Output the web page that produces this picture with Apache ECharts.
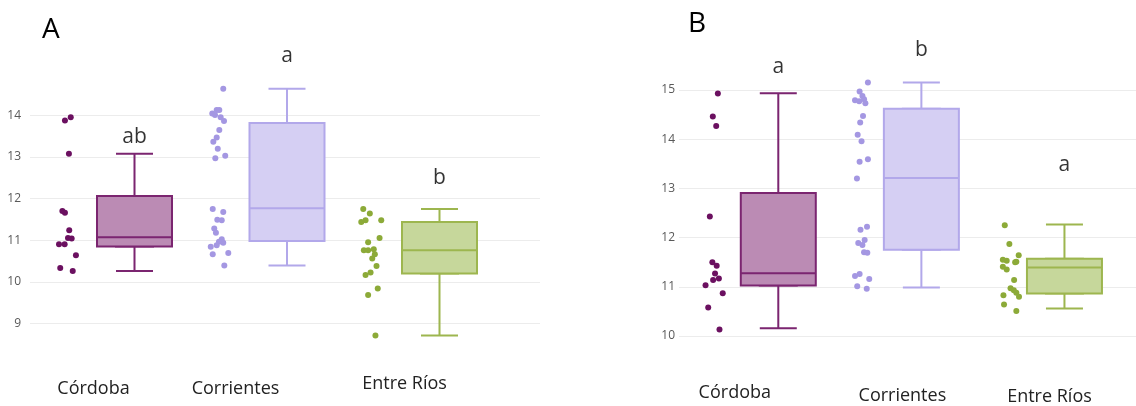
<!DOCTYPE html>
<html>
<head>
<meta charset="utf-8">
<script src="https://cdn.jsdelivr.net/npm/echarts/dist/echarts.min.js"></script>
<style>
html,body{margin:0;padding:0;background:#fff;}
#chart{width:1136px;height:406px;}
</style>
</head>
<body>
<div id="chart"></div>
<script>
// ---------- DATA ----------
const categories = ['Córdoba', 'Corrientes', 'Entre Ríos'];
const yTicksA = [9, 10, 11, 12, 13, 14];
const yTicksB = [10, 11, 12, 13, 14, 15];

// Panel A: jittered points (x in category units, y values)
const cordobaA_x = [-0.456,-0.418,-0.430,-0.473,-0.456,-0.428,-0.436,-0.412,-0.495,-0.458,-0.384,-0.487,-0.405];
const cordobaA_y = [13.88,13.96,13.08,11.70,11.66,11.24,11.05,11.04,10.90,10.90,10.64,10.33,10.26];
const corrientesA_x = [0.582,0.510,0.539,0.556,0.528,0.565,0.587,0.556,0.539,0.517,0.546,0.530,0.595,0.513,0.582,0.543,0.572,0.523,0.534,0.572,0.554,0.582,0.500,0.539,0.513,0.615,0.589];
const corrientesA_y = [14.64,14.05,14.13,14.13,14.01,13.96,13.87,13.65,13.47,13.37,13.20,12.97,13.03,11.75,11.68,11.49,11.48,11.28,11.18,11.02,10.96,10.94,10.84,10.88,10.66,10.69,10.39];
const entreRiosA_x = [1.500,1.543,1.487,1.515,1.618,1.607,1.532,1.504,1.532,1.569,1.576,1.559,1.587,1.548,1.515,1.595,1.532,1.580];
const entreRiosA_y = [11.75,11.64,11.44,11.48,11.48,11.05,10.95,10.76,10.76,10.78,10.66,10.56,10.38,10.22,10.16,9.84,9.68,8.71];
// Panel A boxes: [min, Q1, median, Q3, max]
const boxCordobaA = [10.26, 10.85, 11.07, 12.06, 13.08];
const boxCorrientesA = [10.39, 10.98, 11.77, 13.82, 14.64];
const boxEntreRiosA = [8.71, 10.20, 10.76, 11.44, 11.75];
const lettersA = ['ab', 'a', 'b'];
const lettersA_y = [13.47, 15.42, 12.49];

// Panel B
const cordobaB_x = [-0.420,-0.454,-0.431,-0.474,-0.457,-0.428,-0.439,-0.452,-0.413,-0.503,-0.387,-0.485,-0.409];
const cordobaB_y = [14.93,14.46,14.27,12.43,11.50,11.43,11.27,11.14,11.17,11.03,10.87,10.58,10.13];
const corrientesB_x = [0.592,0.536,0.555,0.566,0.505,0.533,0.575,0.559,0.540,0.523,0.549,0.536,0.592,0.518,0.586,0.542,0.527,0.570,0.555,0.566,0.588,0.536,0.505,0.601,0.520,0.584];
const corrientesB_y = [15.15,14.97,14.88,14.81,14.79,14.77,14.73,14.47,14.34,14.09,13.96,13.54,13.59,13.20,12.22,12.16,11.89,11.95,11.85,11.70,11.69,11.26,11.22,11.16,11.01,10.96];
const entreRiosB_x = [1.515,1.546,1.609,1.502,1.528,1.585,1.593,1.502,1.528,1.578,1.554,1.576,1.593,1.506,1.611,1.510,1.593];
const entreRiosB_y = [12.25,11.87,11.64,11.55,11.53,11.50,11.51,11.41,11.35,11.14,10.97,10.93,10.88,10.83,10.80,10.64,10.51];
const boxCordobaB = [10.13, 11.00, 11.25, 12.89, 14.93];
const boxCorrientesB = [10.96, 11.73, 13.20, 14.61, 15.15];
const boxEntreRiosB = [10.53, 10.84, 11.37, 11.55, 12.25];
const lettersB = ['a', 'b', 'a'];
const lettersB_y = [15.47, 15.81, 13.47];

// ---------- STYLE ----------
const FONT = '"Open Sans", "Noto Sans", sans-serif';
const ptColor = ['#6b1060', '#a497e2', '#8caa38'];
const fillColor = ['#bb8bb4', '#d5cff3', '#c6d79b'];
const lineColor = ['#7b2570', '#b2a8ea', '#9db64f'];
const labelStyleA = { shiftPad: [82, 103, 70], topPad: [5, 5, 0], margin: 10 };
const labelStyleB = { shiftPad: [87, 38, 30], topPad: [0, 3.5, 4.5], margin: 0 };

function pairs(xs, ys) { return xs.map((x, i) => [x, ys[i]]); }

function catAxis(gridIndex, ls) {
  const rich = {};
  ls.shiftPad.forEach((p, i) => {
    rich['c' + i] = { padding: [ls.topPad[i], p, 0, 0], fontSize: 18, color: '#222', fontFamily: FONT };
  });
  return {
    gridIndex, type: 'category', data: categories,
    axisLine: { show: false }, axisTick: { show: false }, splitLine: { show: false },
    axisLabel: {
      interval: 0, margin: ls.margin, fontSize: 18, fontFamily: FONT, color: '#222',
      formatter: (v, i) => '{c' + i + '|' + v + '}', rich
    }
  };
}

function valAxis(gridIndex, min, max, ticks, margin) {
  return {
    gridIndex, type: 'value', min, max, interval: 1,
    axisLine: { show: false }, axisTick: { show: false },
    axisLabel: {
      margin, fontSize: 12, color: '#595959', fontFamily: FONT,
      formatter: v => (ticks.indexOf(v) >= 0 ? String(v) : '')
    },
    splitLine: { show: true, showMinLine: false, showMaxLine: false, lineStyle: { color: '#ececec', width: 1 } }
  };
}

function scatterSeries(xi, yi, sets) {
  return sets.map((s, i) => ({
    type: 'scatter', xAxisIndex: xi, yAxisIndex: yi, silent: true,
    symbolSize: 6, itemStyle: { color: ptColor[i], opacity: 1 },
    data: s
  }));
}

function boxSeries(xWhisk, xBox, yi, boxes) {
  return [
    {
      type: 'boxplot', xAxisIndex: xWhisk, yAxisIndex: yi, silent: true, boxWidth: [37, 37],
      data: boxes.map((b, i) => ({ value: b, itemStyle: { color: fillColor[i], borderColor: lineColor[i], borderWidth: 2 } }))
    },
    {
      type: 'boxplot', xAxisIndex: xBox, yAxisIndex: yi, silent: true, boxWidth: [75, 75],
      data: boxes.map((b, i) => ({ value: [b[1], b[1], b[2], b[3], b[3]], itemStyle: { color: fillColor[i], borderColor: lineColor[i], borderWidth: 2 } }))
    }
  ];
}

function letterSeries(xi, yi, letters, ys) {
  return {
    type: 'scatter', xAxisIndex: xi, yAxisIndex: yi, silent: true, clip: false,
    symbolSize: 1, itemStyle: { color: 'rgba(0,0,0,0)' },
    data: ys.map((y, i) => [i, y]),
    label: { show: true, position: 'inside', formatter: p => letters[p.dataIndex], fontSize: 21, color: '#000', textBorderWidth: 0, fontFamily: FONT }
  };
}

const chart = echarts.init(document.getElementById('chart'), null, { renderer: 'canvas' });
chart.setOption({
  animation: false,
  backgroundColor: '#ffffff',
  title: [
    { text: 'A', left: 42, top: 16, padding: 0, textStyle: { fontSize: 28, fontWeight: 'normal', color: '#000', fontFamily: FONT } },
    { text: 'B', left: 688, top: 10, padding: 0, textStyle: { fontSize: 28, fontWeight: 'normal', color: '#000', fontFamily: FONT } }
  ],
  grid: [
    { left: 30, top: 73.9, width: 510, height: 291 },
    { left: 58.25, top: 73.9, width: 457.5, height: 291 },
    { left: 679, top: 40.8, width: 470, height: 344.4 },
    { left: 706.75, top: 40.8, width: 457.5, height: 344.4 }
  ],
  xAxis: [
    { gridIndex: 0, type: 'value', min: -0.6852, max: 2.659, show: false },
    catAxis(1, labelStyleA),
    { gridIndex: 1, type: 'category', data: categories, show: false },
    { gridIndex: 2, type: 'value', min: -0.682, max: 2.400, show: false },
    catAxis(3, labelStyleB),
    { gridIndex: 3, type: 'category', data: categories, show: false }
  ],
  yAxis: [
    valAxis(0, 8, 15, yTicksA, 9),
    { gridIndex: 1, type: 'value', min: 8, max: 15, show: false },
    valAxis(2, 9, 16, yTicksB, 4),
    { gridIndex: 3, type: 'value', min: 9, max: 16, show: false }
  ],
  series: [
    ...scatterSeries(0, 0, [pairs(cordobaA_x, cordobaA_y), pairs(corrientesA_x, corrientesA_y), pairs(entreRiosA_x, entreRiosA_y)]),
    ...boxSeries(1, 2, 1, [boxCordobaA, boxCorrientesA, boxEntreRiosA]),
    letterSeries(1, 1, lettersA, lettersA_y),
    ...scatterSeries(3, 2, [pairs(cordobaB_x, cordobaB_y), pairs(corrientesB_x, corrientesB_y), pairs(entreRiosB_x, entreRiosB_y)]),
    ...boxSeries(4, 5, 3, [boxCordobaB, boxCorrientesB, boxEntreRiosB]),
    letterSeries(4, 3, lettersB, lettersB_y)
  ]
});
</script>
</body>
</html>
